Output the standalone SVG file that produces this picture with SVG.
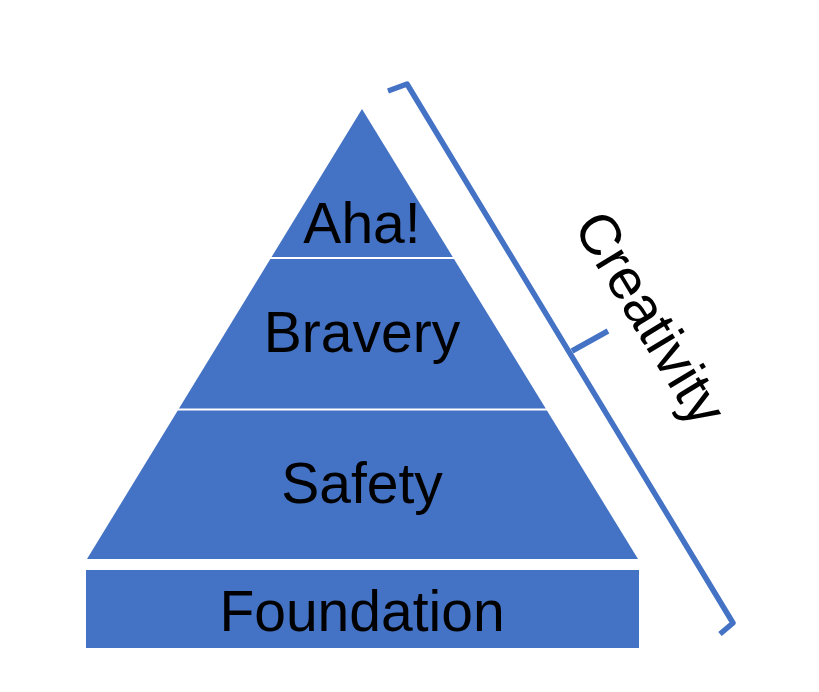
<svg xmlns="http://www.w3.org/2000/svg" width="819" height="692" viewBox="0 0 819 692">
<style>
.lbl{font-family:"Liberation Sans",Arial,sans-serif;font-size:57px;fill:#000;text-anchor:middle}
.tier{fill:#4472C4}
.div{stroke:#fff;stroke-width:2}
.brace{fill:none;stroke:#4472C4;stroke-width:5.5;stroke-linejoin:round}
</style>
<rect width="819" height="692" fill="#fff"/>
<g id="pyramid">
<polygon class="tier" points="362,109 638,559 87,559"/>
<line class="div" x1="150" y1="258" x2="580" y2="258"/>
<line class="div" x1="100" y1="409.5" x2="620" y2="409.5"/>
</g>
<g id="aha"><text class="lbl" x="362" y="243">Aha!</text></g>
<g id="bravery"><text class="lbl" x="362" y="352">Bravery</text></g>
<g id="safety"><text class="lbl" x="362" y="503">Safety</text></g>
<g id="foundation">
<rect class="tier" x="86" y="570" width="553" height="78"/>
<text class="lbl" x="362" y="631">Foundation</text>
</g>
<g id="connectors">
<polyline class="brace" points="388,91 407,84 733,623 720,634"/>
<line class="brace" x1="572" y1="351" x2="608" y2="331"/>
</g>
<g id="creativity">
<text class="lbl" transform="translate(634,328) rotate(58.8)" x="0" y="0">Creativity</text>
</g>
</svg>
